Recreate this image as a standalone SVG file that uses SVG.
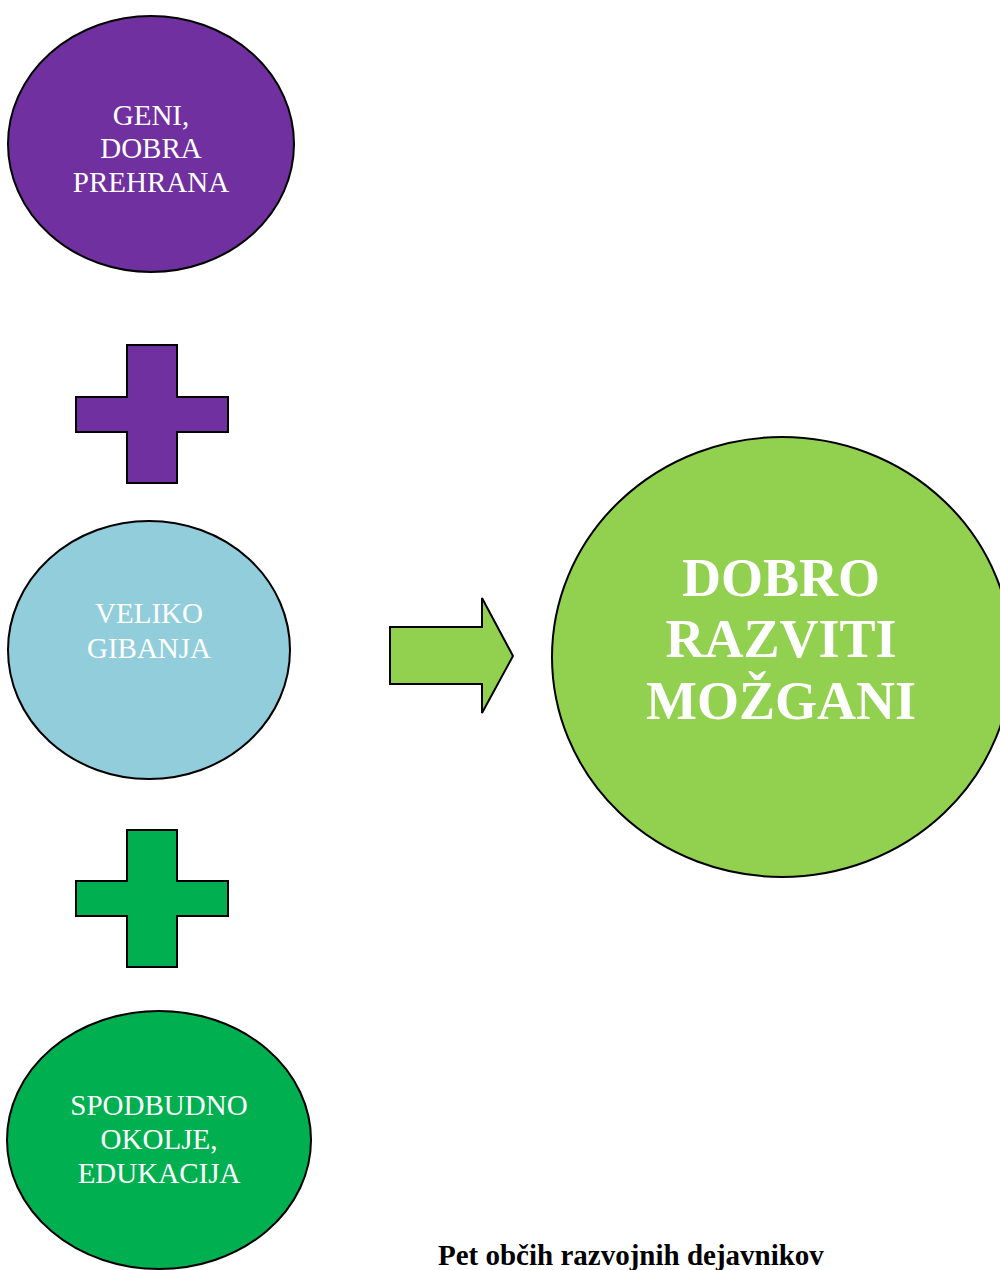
<svg xmlns="http://www.w3.org/2000/svg" width="1000" height="1270" viewBox="0 0 1000 1270">
<style>
.shape{stroke:#000;stroke-width:2}
.lbl{font-family:"Liberation Serif","Times New Roman",serif;fill:#fff;font-size:29px;text-anchor:middle}
.big{font-family:"Liberation Serif","Times New Roman",serif;fill:#fff;font-size:54px;font-weight:bold;text-anchor:middle}
.cap{font-family:"Liberation Serif","Times New Roman",serif;fill:#000;font-size:29px;font-weight:bold}
</style>
<rect width="1000" height="1270" fill="#fff"/>
<g id="node-geni">
<ellipse class="shape" cx="151" cy="144" rx="143" ry="128" fill="#7030A0"/>
<text class="lbl" x="151" y="125">GENI,</text>
<text class="lbl" x="151" y="158">DOBRA</text>
<text class="lbl" x="151" y="192">PREHRANA</text>
</g>
<g id="node-gibanja">
<ellipse class="shape" cx="149" cy="650" rx="141" ry="129" fill="#92CDDC"/>
<text class="lbl" x="149" y="623">VELIKO</text>
<text class="lbl" x="149" y="658">GIBANJA</text>
</g>
<g id="node-okolje">
<ellipse class="shape" cx="159" cy="1140" rx="152" ry="129" fill="#00B050"/>
<text class="lbl" x="159" y="1115">SPODBUDNO</text>
<text class="lbl" x="159" y="1149">OKOLJE,</text>
<text class="lbl" x="159" y="1183">EDUKACIJA</text>
</g>
<g id="node-mozgani">
<ellipse class="shape" cx="782" cy="657" rx="230" ry="220" fill="#92D050"/>
<text class="big" x="781" y="596">DOBRO</text>
<text class="big" x="781" y="657">RAZVITI</text>
<text class="big" x="781" y="719">MOŽGANI</text>
</g>
<g id="connectors">
<path id="plus-1" class="shape" fill="#7030A0" d="M127 345H177V397H228V432H177V483H127V432H76V397H127Z"/>
<path id="plus-2" class="shape" fill="#00B050" d="M127 830H177V881H228V916H177V967H127V916H76V881H127Z"/>
<path id="arrow" class="shape" fill="#92D050" d="M390 627H482V598L513 656L482 713V684H390Z"/>
</g>
<text class="cap" x="438" y="1265">Pet občih razvojnih dejavnikov</text>
</svg>
